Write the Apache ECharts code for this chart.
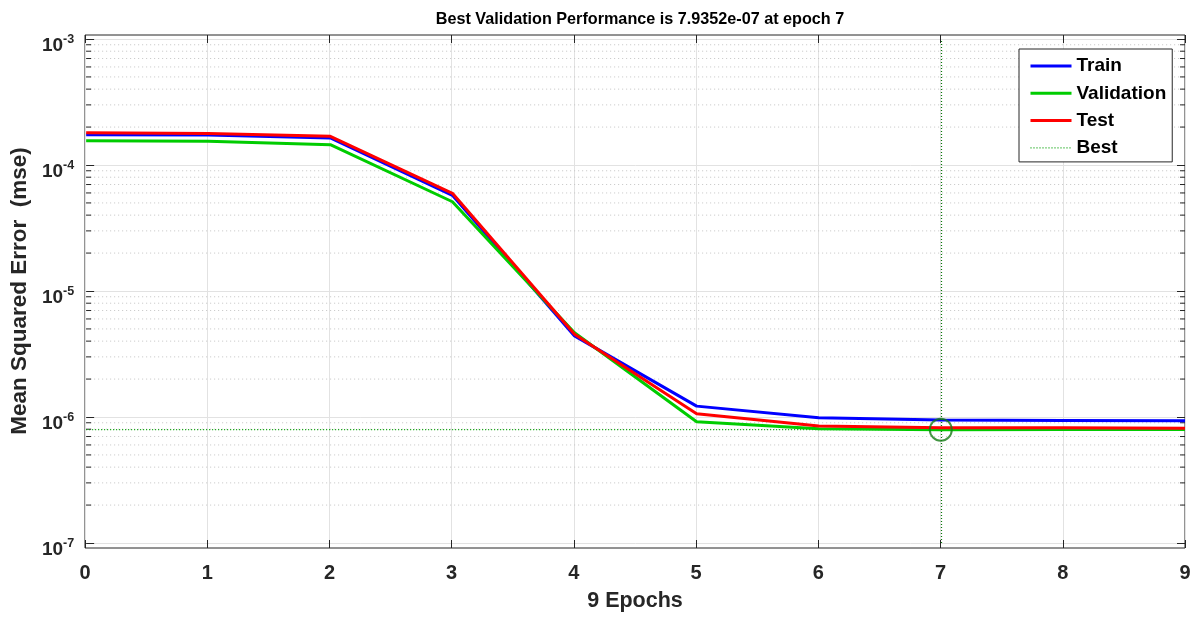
<!DOCTYPE html>
<html>
<head>
<meta charset="utf-8">
<title>Performance</title>
<script src="https://cdn.jsdelivr.net/npm/echarts@6/dist/echarts.min.js"></script>
<style>
  html, body { margin: 0; padding: 0; background: #ffffff; }
  #chart { width: 1200px; height: 617px; }
</style>
</head>
<body>
<div id="chart"></div>
<script>
// Training record: mean squared error per epoch
const epochs = [0, 1, 2, 3, 4, 5, 6, 7, 8, 9];
const trainMSE = [1.74e-4, 1.73e-4, 1.64e-4, 5.75e-5, 4.40e-6, 1.22e-6, 9.88e-7, 9.46e-7, 9.40e-7, 9.32e-7];
const validMSE = [1.56e-4, 1.54e-4, 1.45e-4, 5.11e-5, 4.67e-6, 9.18e-7, 8.07e-7, 7.9352e-7, 7.94e-7, 7.95e-7];
const testMSE  = [1.80e-4, 1.78e-4, 1.69e-4, 5.96e-5, 4.53e-6, 1.06e-6, 8.49e-7, 8.22e-7, 8.20e-7, 8.13e-7];

// Axis ticks
const xTicks = [0, 1, 2, 3, 4, 5, 6, 7, 8, 9];
const yDecadeExponents = [-7, -6, -5, -4, -3];
const yMinorMultipliers = [2, 3, 4, 5, 6, 7, 8, 9];

const xMin = xTicks[0];
const xMax = xTicks[xTicks.length - 1];
const yMin = Math.pow(10, yDecadeExponents[0]);
const yMax = Math.pow(10, yDecadeExponents[yDecadeExponents.length - 1]);

// Best validation epoch
let bestEpoch = 0;
validMSE.forEach((v, i) => { if (v < validMSE[bestEpoch]) bestEpoch = i; });
const bestValue = validMSE[bestEpoch];

// Minor gridline values between decades
const minorValues = [];
for (let k = 0; k < yDecadeExponents.length - 1; k++) {
  yMinorMultipliers.forEach(m => minorValues.push(m * Math.pow(10, yDecadeExponents[k])));
}

const pairs = arr => epochs.map((e, i) => [e, arr[i]]);

const AXIS = '#262626';
const GRID = '#e2e2e2';
const FONT = 'Liberation Sans, Arial, sans-serif';

const chart = echarts.init(document.getElementById('chart'), null, { renderer: 'canvas' });

chart.setOption({
  animation: false,
  backgroundColor: '#ffffff',
  title: {
    text: 'Best Validation Performance is ' + bestValue.toExponential(4).replace('e-', 'e-0') + ' at epoch ' + bestEpoch,
    left: 635,
    top: 7,
    textAlign: 'center',
    textStyle: { fontFamily: FONT, fontSize: 16.2, fontWeight: 'bold', color: '#000000' }
  },
  grid: [
    { left: 85, right: 15, top: 39, bottom: 74 },
    { left: 85, right: 15, top: 35, bottom: 69, show: true, borderColor: AXIS, borderWidth: 1, backgroundColor: 'transparent' }
  ],
  legend: {
    orient: 'vertical',
    left: 1019,
    top: 49,
    padding: [7, 6, 4, 10],
    itemGap: 7.3,
    itemWidth: 41,
    itemHeight: 14,
    backgroundColor: '#ffffff',
    borderColor: AXIS,
    borderWidth: 1,
    borderRadius: 0,
    itemStyle: { opacity: 0 },
    data: [
      { name: 'Train', lineStyle: { width: 3 } },
      { name: 'Validation', lineStyle: { width: 3 } },
      { name: 'Test', lineStyle: { width: 3 } },
      { name: 'Best', lineStyle: { width: 1.2 } }
    ],
    textStyle: { fontFamily: FONT, fontSize: 19, lineHeight: 20, fontWeight: 'bold', color: '#000000' }
  },
  xAxis: [
    { type: 'value', gridIndex: 0, min: xMin, max: xMax, show: false },
    {
      type: 'value', gridIndex: 1, position: 'bottom', min: xMin, max: xMax, interval: 1,
      axisLine: { show: false },
      axisTick: { show: true, inside: true, length: 8, lineStyle: { color: AXIS } },
      splitLine: { show: true, lineStyle: { color: GRID, width: 1 } },
      axisLabel: { margin: 15, fontFamily: FONT, fontSize: 20, fontWeight: 'bold', color: AXIS },
      name: '9 Epochs',
      nameLocation: 'middle',
      nameGap: 42,
      nameTextStyle: { fontFamily: FONT, fontSize: 21.5, fontWeight: 'bold', color: AXIS }
    },
    {
      type: 'value', gridIndex: 1, position: 'top', min: xMin, max: xMax, interval: 1,
      axisLine: { show: false },
      axisTick: { show: true, inside: true, length: 8, lineStyle: { color: AXIS } },
      splitLine: { show: false },
      axisLabel: { show: false }
    }
  ],
  yAxis: [
    {
      type: 'log', logBase: 10, gridIndex: 0, position: 'left', min: yMin, max: yMax,
      axisLine: { show: false },
      axisTick: { show: true, inside: true, length: 8, lineStyle: { color: AXIS } },
      splitLine: { show: true, lineStyle: { color: GRID, width: 1 } },
      axisLabel: {
        margin: 12,
        padding: [13, 0, 0, 0],
        formatter: v => '{b|10}{s|' + Math.round(Math.log10(v)) + '}',
        rich: {
          b: { fontFamily: FONT, fontSize: 19, fontWeight: 'bold', color: AXIS },
          s: { fontFamily: FONT, fontSize: 12.5, fontWeight: 'bold', color: AXIS, padding: [0, 0, 12, 0] }
        }
      },
      name: 'Mean Squared Error  (mse)',
      nameLocation: 'middle',
      nameGap: 41,
      nameTextStyle: { fontFamily: FONT, fontSize: 22.5, fontWeight: 'bold', color: AXIS }
    },
    {
      type: 'log', logBase: 10, gridIndex: 0, position: 'right', min: yMin, max: yMax,
      axisLine: { show: false },
      axisTick: { show: true, inside: true, length: 8, lineStyle: { color: AXIS } },
      splitLine: { show: false },
      axisLabel: { show: false }
    },
    { type: 'value', gridIndex: 1, min: 0, max: 1, show: false }
  ],
  series: [
    {
      // minor log gridlines with their ticks on both sides
      type: 'custom',
      name: 'minor',
      xAxisIndex: 0, yAxisIndex: 0,
      silent: true,
      z: 1,
      data: minorValues.map(v => [xMin, v]),
      renderItem: (params, api) => {
        const v = api.value(1);
        const a = api.coord([xMin, v]);
        const b = api.coord([xMax, v]);
        return {
          type: 'group',
          children: [
            { type: 'line', shape: { x1: a[0], y1: a[1], x2: b[0], y2: b[1] }, style: { stroke: '#c4c4c4', lineWidth: 1, lineDash: [1, 3] } },
            { type: 'line', shape: { x1: a[0], y1: a[1], x2: a[0] + 5, y2: a[1] }, style: { stroke: AXIS, lineWidth: 1 } },
            { type: 'line', shape: { x1: b[0] - 5, y1: b[1], x2: b[0], y2: b[1] }, style: { stroke: AXIS, lineWidth: 1 } }
          ]
        };
      }
    },
    {
      name: 'Train', type: 'line', xAxisIndex: 0, yAxisIndex: 0,
      data: pairs(trainMSE), symbol: 'none', z: 3,
      lineStyle: { color: '#0000ff', width: 3 }, itemStyle: { color: '#0000ff' }
    },
    {
      name: 'Validation', type: 'line', xAxisIndex: 0, yAxisIndex: 0,
      data: pairs(validMSE), symbol: 'none', z: 4,
      lineStyle: { color: '#00cc00', width: 3 }, itemStyle: { color: '#00cc00' }
    },
    {
      name: 'Test', type: 'line', xAxisIndex: 0, yAxisIndex: 0,
      data: pairs(testMSE), symbol: 'none', z: 5,
      lineStyle: { color: '#ff0000', width: 3 }, itemStyle: { color: '#ff0000' }
    },
    {
      name: 'Best', type: 'line', xAxisIndex: 0, yAxisIndex: 0,
      data: [[xMin, bestValue], [xMax, bestValue]], symbol: 'none', z: 2,
      lineStyle: { color: '#00a000', width: 1.2, type: [1, 2] }, itemStyle: { color: '#00a000' },
      markLine: {
        silent: true,
        symbol: ['none', 'none'],
        label: { show: false },
        lineStyle: { color: '#0a780a', width: 1.2, type: [1, 2] },
        data: [{ xAxis: bestEpoch }]
      }
    },
    {
      name: 'bestPoint', type: 'scatter', xAxisIndex: 0, yAxisIndex: 0,
      data: [[bestEpoch, bestValue]], symbol: 'circle', symbolSize: 22, z: 6, silent: true,
      itemStyle: { color: 'rgba(0,0,0,0)', borderColor: '#137a13', borderWidth: 2 }
    }
  ]
});
</script>
</body>
</html>
